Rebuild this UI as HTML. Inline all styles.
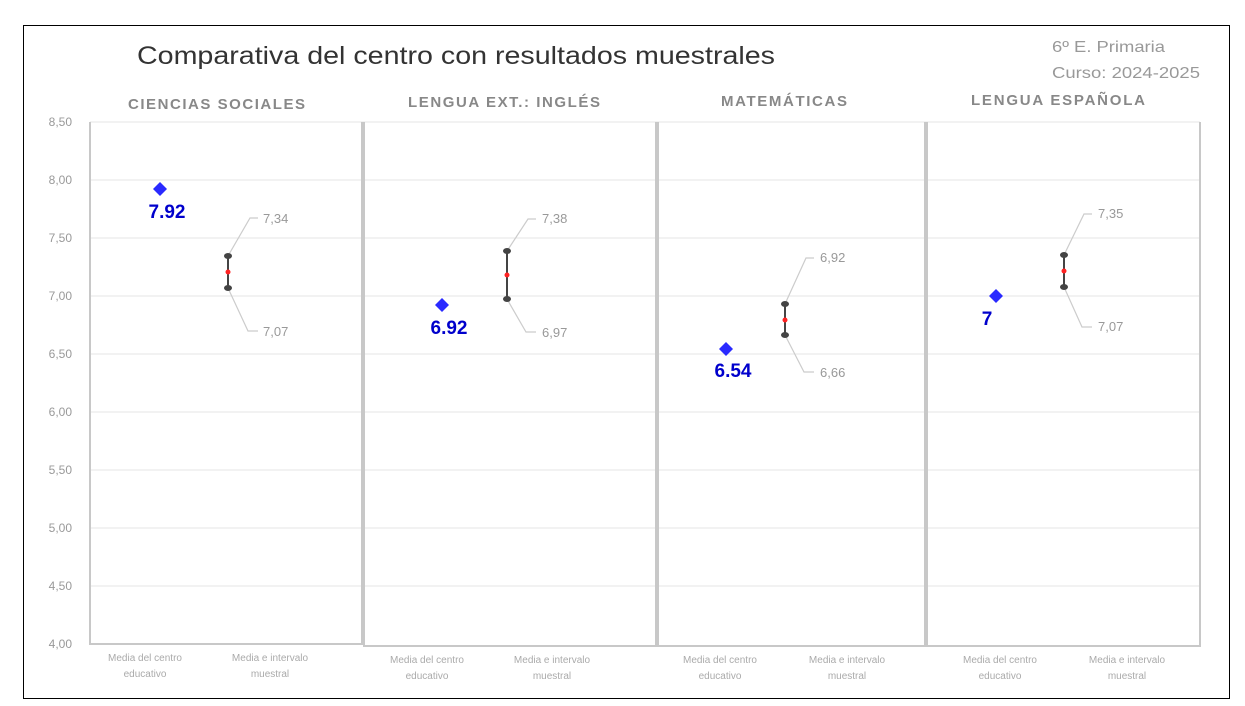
<!DOCTYPE html>
<html><head><meta charset="utf-8"><style>
body{margin:0;background:#fff;}
svg{display:block;font-family:"Liberation Sans",sans-serif;}
</style></head><body>
<svg width="1245" height="706" viewBox="0 0 1245 706">
<rect x="0" y="0" width="1245" height="706" fill="#fff"/>
<rect x="23.5" y="25.5" width="1206" height="673" fill="none" stroke="#000" stroke-width="1"/>
<text x="137" y="64" font-size="25" fill="#333" textLength="638" lengthAdjust="spacingAndGlyphs">Comparativa del centro con resultados muestrales</text>
<text x="1052" y="52" font-size="16" fill="#999" textLength="113" lengthAdjust="spacingAndGlyphs">6º E. Primaria</text>
<text x="1052" y="78" font-size="16" fill="#999" textLength="148" lengthAdjust="spacingAndGlyphs">Curso: 2024-2025</text>
<g font-size="15" font-weight="bold" fill="#888" lengthAdjust="spacingAndGlyphs">
<text x="128" y="109" textLength="177">CIENCIAS SOCIALES</text>
<text x="408" y="107" textLength="192">LENGUA EXT.: INGLÉS</text>
<text x="721" y="106" textLength="126">MATEMÁTICAS</text>
<text x="971" y="105" textLength="174">LENGUA ESPAÑOLA</text>
</g>
<g stroke="#e6e6e6" stroke-width="1">
<line x1="90" x2="1200" y1="180" y2="180"/><line x1="90" x2="1200" y1="238" y2="238"/>
<line x1="90" x2="1200" y1="296" y2="296"/><line x1="90" x2="1200" y1="354" y2="354"/>
<line x1="90" x2="1200" y1="412" y2="412"/><line x1="90" x2="1200" y1="470" y2="470"/>
<line x1="90" x2="1200" y1="528" y2="528"/><line x1="90" x2="1200" y1="586" y2="586"/>
<line x1="90" x2="1200" y1="122" y2="122"/>
</g>
<g fill="none" stroke="#c8c8c8" stroke-width="2">
<polyline points="90,122 90,644 362,644 362,122"/>
<polyline points="364,122 364,646 656,646 656,122"/>
<polyline points="658,122 658,646 925,646 925,122"/>
<polyline points="927,122 927,646 1200,646 1200,122"/>
</g>
<g font-size="12" fill="#999" text-anchor="end">
<text x="72" y="126">8,50</text><text x="72" y="184">8,00</text><text x="72" y="242">7,50</text>
<text x="72" y="300">7,00</text><text x="72" y="358">6,50</text><text x="72" y="416">6,00</text>
<text x="72" y="474">5,50</text><text x="72" y="532">5,00</text><text x="72" y="590">4,50</text>
<text x="72" y="648">4,00</text>
</g>
<g font-size="10" fill="#aaa" text-anchor="middle">
<text x="145" y="661">Media del centro</text><text x="145" y="677">educativo</text>
<text x="270" y="661">Media e intervalo</text><text x="270" y="677">muestral</text>
<text x="427" y="663">Media del centro</text><text x="427" y="679">educativo</text>
<text x="552" y="663">Media e intervalo</text><text x="552" y="679">muestral</text>
<text x="720" y="663">Media del centro</text><text x="720" y="679">educativo</text>
<text x="847" y="663">Media e intervalo</text><text x="847" y="679">muestral</text>
<text x="1000" y="663">Media del centro</text><text x="1000" y="679">educativo</text>
<text x="1127" y="663">Media e intervalo</text><text x="1127" y="679">muestral</text>
</g>
<g fill="none" stroke="#ccc" stroke-width="1.2">
<polyline points="228,256 250,218 258,218"/><polyline points="228,288 248,331 258,331"/>
<polyline points="507,251 528,219 536,219"/><polyline points="507,299 526,332 536,332"/>
<polyline points="785,304 806,258 814,258"/><polyline points="785,335 804,372 814,372"/>
<polyline points="1064,255 1084,214 1092,214"/><polyline points="1064,287 1082,327 1092,327"/>
</g>
<g font-size="13" fill="#999">
<text x="263" y="223">7,34</text><text x="263" y="336">7,07</text>
<text x="542" y="223">7,38</text><text x="542" y="337">6,97</text>
<text x="820" y="262">6,92</text><text x="820" y="377">6,66</text>
<text x="1098" y="218">7,35</text><text x="1098" y="331">7,07</text>
</g>
<g stroke="#444" stroke-width="2">
<line x1="228" x2="228" y1="256" y2="288"/>
<line x1="507" x2="507" y1="251" y2="299"/>
<line x1="785" x2="785" y1="304" y2="335"/>
<line x1="1064" x2="1064" y1="255" y2="287"/>
</g>
<g fill="#444">
<ellipse cx="228" cy="256" rx="4" ry="3"/><ellipse cx="228" cy="288" rx="4" ry="3"/>
<ellipse cx="507" cy="251" rx="4" ry="3"/><ellipse cx="507" cy="299" rx="4" ry="3"/>
<ellipse cx="785" cy="304" rx="4" ry="3"/><ellipse cx="785" cy="335" rx="4" ry="3"/>
<ellipse cx="1064" cy="255" rx="4" ry="3"/><ellipse cx="1064" cy="287" rx="4" ry="3"/>
</g>
<g fill="#f22">
<circle cx="228" cy="272" r="2.5"/><circle cx="507" cy="275" r="2.5"/>
<circle cx="785" cy="320" r="2.5"/><circle cx="1064" cy="271" r="2.5"/>
</g>
<g fill="#2a2aff">
<path d="M160,182 L167,189 L160,196 L153,189Z"/>
<path d="M442,298 L449,305 L442,312 L435,305Z"/>
<path d="M726,342 L733,349 L726,356 L719,349Z"/>
<path d="M996,289 L1003,296 L996,303 L989,296Z"/>
</g>
<g font-size="19" font-weight="bold" fill="#0000cc" text-anchor="middle">
<text x="167" y="218">7.92</text>
<text x="449" y="334">6.92</text>
<text x="733" y="377">6.54</text>
<text x="987" y="325">7</text>
</g>
</svg>
</body></html>
